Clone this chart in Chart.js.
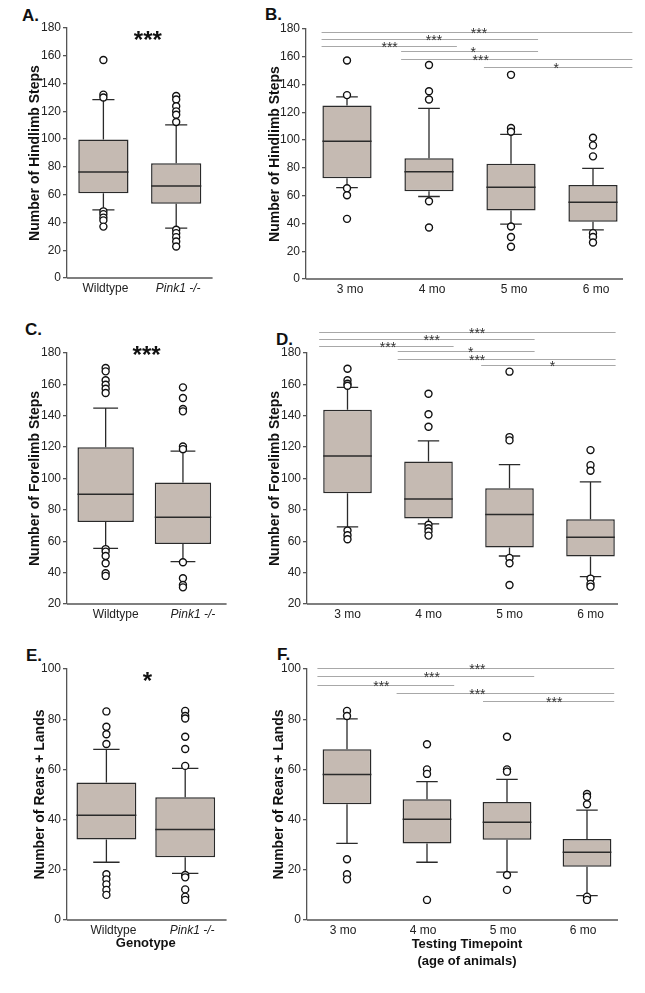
<!DOCTYPE html>
<html>
<head>
<meta charset="utf-8">
<script src="https://cdn.jsdelivr.net/npm/chart.js@4.4.1/dist/chart.umd.min.js"></script>
<style>
  body { margin: 0; background: #fff; width: 645px; height: 993px; position: relative; overflow: hidden;
         font-family: "Liberation Sans", Arial, sans-serif; }
  canvas { position: absolute; }
  .letter { position: absolute; font-weight: bold; font-size: 17px; line-height: 17px; color: #111; }
</style>
</head>
<body>
<div class="letter" style="left:22px;top:7px">A.</div>
<div class="letter" style="left:265px;top:6px">B.</div>
<div class="letter" style="left:25px;top:321px">C.</div>
<div class="letter" style="left:276px;top:331px">D.</div>
<div class="letter" style="left:26px;top:647px">E.</div>
<div class="letter" style="left:277px;top:646px">F.</div>

<canvas id="chartA" width="198" height="308" style="left:20px;top:0px"></canvas>
<canvas id="chartB" width="380" height="309" style="left:262px;top:0px"></canvas>
<canvas id="chartC" width="207" height="324" style="left:20px;top:310px"></canvas>
<canvas id="chartD" width="378" height="324" style="left:263px;top:310px"></canvas>
<canvas id="chartE" width="203" height="363" style="left:27px;top:630px"></canvas>
<canvas id="chartF" width="372" height="363" style="left:265px;top:630px"></canvas>

<script>
// ---------------- Data ----------------
const genotypeLabels = ["Wildtype", "Pink1 -/-"];
const ageLabels = ["3 mo", "4 mo", "5 mo", "6 mo"];

// A. hindlimb steps by genotype
const hindGenoQ1 = [61, 53.4];
const hindGenoMedian = [76.4, 66.3];
const hindGenoQ3 = [99.8, 82.6];
const hindGenoLow = [49, 35.9];
const hindGenoHigh = [128.5, 110.3];
const hindGenoOutliers = [
  [157, 132, 130, 48, 46, 43.5, 41.5, 37],
  [131, 128.5, 123.7, 120, 117.5, 112.3, 34.7, 32.3, 29.4, 26.3, 22.7],
];

// B. hindlimb steps by age
const hindAgeQ1 = [72.5, 63.2, 49.3, 41.2];
const hindAgeMedian = [99.1, 77.3, 66.1, 55.3];
const hindAgeQ3 = [124.9, 86.9, 83, 67.7];
const hindAgeLow = [65.8, 59.4, 39.5, 35.4];
const hindAgeHigh = [131.2, 122.8, 104.1, 79.7];
const hindAgeOutliers = [
  [157.3, 132.4, 65.3, 60.3, 43.3],
  [154.1, 135.2, 129.2, 56, 37.1],
  [147, 108.7, 106, 37.8, 30.2, 23.2],
  [101.7, 96.2, 88.3, 33, 30.2, 26.3],
];

// C. forelimb steps by genotype
const foreGenoQ1 = [72.3, 58.3];
const foreGenoMedian = [90, 75.3];
const foreGenoQ3 = [120, 97.4];
const foreGenoLow = [55.5, 47];
const foreGenoHigh = [144.9, 117.4];
const foreGenoOutliers = [
  [170.4, 168.3, 162.6, 159.8, 157.2, 154.5, 55, 53.4, 50.6, 46, 39.6, 37.9],
  [158.1, 151.3, 144.3, 142.8, 120.4, 118.7, 46.6, 36.4, 32.1, 30.6],
];

// D. forelimb steps by age
const foreAgeQ1 = [90.6, 74.5, 56, 50.2];
const foreAgeMedian = [114.3, 87, 77, 62.6];
const foreAgeQ3 = [143.8, 110.9, 93.8, 74];
const foreAgeLow = [69.1, 71.1, 50.6, 37.4];
const foreAgeHigh = [158.1, 124, 108.9, 97.9];
const foreAgeOutliers = [
  [170, 162.6, 160.4, 159.1, 66.8, 63.8, 61.3],
  [154, 141, 133, 70.5, 68.3, 66.2, 63.6],
  [168.1, 126.4, 124.3, 49.4, 46, 32.1],
  [118.1, 108.5, 104.9, 36.2, 32.8, 31.1],
];

// E. rears + lands by genotype
const rearGenoQ1 = [32.1, 25];
const rearGenoMedian = [41.7, 36.1];
const rearGenoQ3 = [54.8, 48.9];
const rearGenoLow = [23, 18.6];
const rearGenoHigh = [68, 60.4];
const rearGenoOutliers = [
  [83.1, 77, 74, 70.1, 18.2, 16.2, 14.2, 12, 10],
  [83.3, 81.3, 80.3, 73, 68.1, 61.4, 17.9, 17, 12.2, 9.3, 8],
];

// F. rears + lands by age
const rearAgeQ1 = [46.1, 30.5, 32, 21.2];
const rearAgeMedian = [58, 40.1, 38.9, 27];
const rearAgeQ3 = [68, 48.1, 47, 32.3];
const rearAgeLow = [30.5, 23, 19.1, 9.7];
const rearAgeHigh = [80.1, 55.1, 56, 43.8];
const rearAgeOutliers = [
  [83.3, 81.3, 24.2, 18.2, 16.2],
  [70, 60, 58.2, 8],
  [73, 60, 59.1, 17.9, 12],
  [50.2, 49.1, 46.1, 9.3, 8],
];

// significance brackets (category index units) and their stars
const hindSigFrom = [-0.31, -0.31, -0.31, 0.66, 0.66, 1.67];
const hindSigTo = [3.48, 2.33, 1.34, 2.33, 3.48, 3.48];
const hindSigY = [177.6, 173.1, 168, 164.2, 158.4, 152.7];
const hindSigText = ["***", "***", "***", "*", "***", "*"];
const hindSigTextX = [1.61, 1.06, 0.52, 1.54, 1.63, 2.55];

const foreSigFrom = [-0.35, -0.35, -0.35, 0.62, 0.62, 1.65];
const foreSigTo = [3.31, 2.31, 1.31, 2.31, 3.31, 3.31];
const foreSigY = [193.4, 188.9, 184.7, 181, 176.2, 172.1];
const foreSigText = ["***", "***", "***", "*", "***", "*"];
const foreSigTextX = [1.6, 1.04, 0.5, 1.52, 1.6, 2.53];

const rearSigFrom = [-0.37, -0.37, -0.37, 0.62, 1.7];
const rearSigTo = [3.34, 2.34, 1.34, 3.34, 3.34];
const rearSigY = [100.5, 97.1, 93.5, 90.6, 87.1];
const rearSigText = ["***", "***", "***", "***", "***"];
const rearSigTextX = [1.63, 1.06, 0.43, 1.63, 2.59];

// genotype comparison stars: [text, x index, y value]
const hindGenoStar = ["***", 0.61, 172.6];
const foreGenoStar = ["***", 0.53, 180];
const rearGenoStar = ["*", 0.52, 96];

// ---------------- Style ----------------
const BOX_FILL = "#c5bab2";
const EDGE = "#2a2a2a";
const AXIS = "#555";
const FONT = '"Liberation Sans", Arial, sans-serif';
Chart.defaults.font.family = FONT;

// whiskers, medians, brackets, stars, x axis line
const boxWhiskers = {
  id: "boxWhiskers",
  beforeDatasetsDraw(chart, args, o) {
    const { ctx } = chart;
    const y = chart.scales.y;
    const meta = chart.getDatasetMeta(0);
    ctx.save();
    ctx.strokeStyle = EDGE;
    ctx.lineWidth = 1.3;
    meta.data.forEach((bar, i) => {
      const cap = bar.width * 0.22;
      const yHi = y.getPixelForValue(o.high[i]);
      const yLo = y.getPixelForValue(o.low[i]);
      const yQ3 = y.getPixelForValue(o.q3[i]);
      const yQ1 = y.getPixelForValue(o.q1[i]);
      ctx.beginPath();
      ctx.moveTo(bar.x, yQ3); ctx.lineTo(bar.x, yHi);
      ctx.moveTo(bar.x - cap, yHi); ctx.lineTo(bar.x + cap, yHi);
      ctx.moveTo(bar.x, yQ1); ctx.lineTo(bar.x, yLo);
      ctx.moveTo(bar.x - cap, yLo); ctx.lineTo(bar.x + cap, yLo);
      ctx.stroke();
    });
    ctx.restore();
  },
  afterDatasetDraw(chart, args, o) {
    if (args.index !== 0) return;
    const { ctx } = chart;
    const y = chart.scales.y;
    ctx.save();
    ctx.strokeStyle = EDGE;
    ctx.lineWidth = 1.5;
    args.meta.data.forEach((bar, i) => {
      const ym = y.getPixelForValue(o.median[i]);
      ctx.beginPath();
      ctx.moveTo(bar.x - bar.width / 2, ym);
      ctx.lineTo(bar.x + bar.width / 2, ym);
      ctx.stroke();
    });
    ctx.restore();
  },
  afterDraw(chart, args, o) {
    const { ctx, chartArea } = chart;
    const { x, y } = chart.scales;
    ctx.save();
    // x axis line
    ctx.strokeStyle = AXIS;
    ctx.lineWidth = 1.3;
    ctx.beginPath();
    ctx.moveTo(chartArea.left, chartArea.bottom);
    ctx.lineTo(chartArea.right + (o.axisExtra || 0), chartArea.bottom);
    ctx.stroke();

    if (o.sig) {
      const s = o.sig;
      ctx.strokeStyle = "#a8a8a8";
      ctx.lineWidth = 1.2;
      ctx.fillStyle = "#333";
      ctx.font = "14px " + FONT;
      ctx.textAlign = "center";
      ctx.textBaseline = "alphabetic";
      s.y.forEach((v, k) => {
        const py = Math.round(y.getPixelForValue(v)) + 0.5;
        ctx.beginPath();
        ctx.moveTo(x.getPixelForValue(s.from[k]), py);
        ctx.lineTo(x.getPixelForValue(s.to[k]), py);
        ctx.stroke();
        ctx.fillText(s.text[k], x.getPixelForValue(s.textX[k]), py + 5);
      });
    }
    if (o.star) {
      const [txt, sx, sy] = o.star;
      ctx.fillStyle = "#111";
      ctx.font = "bold 24px " + FONT;
      ctx.textAlign = "center";
      ctx.textBaseline = "alphabetic";
      ctx.fillText(txt, x.getPixelForValue(sx), y.getPixelForValue(sy) + 10);
    }
    ctx.restore();
  },
};

function makePanel(id, p) {
  const labels = p.labels;
  const points = [];
  p.outliers.forEach((vals, i) => vals.forEach((v) => points.push({ x: labels[i], y: v })));

  return new Chart(document.getElementById(id), {
    data: {
      labels,
      datasets: [
        {
          type: "bar",
          data: p.q1.map((v, i) => [v, p.q3[i]]),
          backgroundColor: BOX_FILL,
          borderColor: EDGE,
          borderWidth: 1.5,
          borderSkipped: false,
          barPercentage: p.barPct,
          categoryPercentage: 1,
          order: 1,
        },
        {
          type: "line",
          data: points,
          showLine: false,
          pointRadius: 3.5,
          pointBorderWidth: 1.4,
          pointBackgroundColor: "#fff",
          pointBorderColor: "#111",
          order: 0,
        },
      ],
    },
    options: {
      responsive: false,
      animation: false,
      events: [],
      layout: { padding: { top: p.padTop, right: p.padRight, bottom: p.padBottom || 0, left: 0 } },
      plugins: {
        legend: { display: false },
        tooltip: { enabled: false },
        boxWhiskers: {
          q1: p.q1, q3: p.q3, median: p.median, low: p.low, high: p.high,
          sig: p.sig, star: p.star, axisExtra: p.axisExtra,
        },
      },
      scales: {
        x: {
          type: "category",
          offset: true,
          grid: { display: false, drawTicks: false },
          border: { display: false },
          ticks: {
            color: "#222",
            padding: 3,
            labelOffset: p.labelShift || 0,
            maxRotation: 0,
            autoSkip: false,
            font: (c) => ({ size: 12, style: labels[c.index] === "Pink1 -/-" ? "italic" : "normal" }),
          },
          title: p.xTitle
            ? { display: true, text: p.xTitle, color: "#111", font: { size: 13, weight: "bold", lineHeight: 1.3 }, padding: 0 }
            : { display: false },
          afterFit: (s) => { s.height = p.xHeight; },
        },
        y: {
          min: p.yMin,
          max: p.yMax,
          ticks: { stepSize: 20, color: "#222", padding: 2, font: { size: 12 } },
          grid: { drawOnChartArea: false, tickLength: 4, color: AXIS, lineWidth: 1.3 },
          border: { color: AXIS, width: 1.3 },
          title: {
            display: true,
            text: p.yTitle,
            color: "#111",
            font: { size: 14, weight: "bold" },
            padding: { top: p.yTitlePad, bottom: 0 },
          },
          afterFit: (s) => { s.width = p.yWidth; },
        },
      },
    },
    plugins: [boxWhiskers],
  });
}

// ---------------- Panels ----------------
makePanel("chartA", {
  labels: genotypeLabels, q1: hindGenoQ1, median: hindGenoMedian, q3: hindGenoQ3,
  low: hindGenoLow, high: hindGenoHigh, outliers: hindGenoOutliers,
  yMin: 0, yMax: 180, yTitle: "Number of Hindlimb Steps", star: hindGenoStar,
  padTop: 28, padRight: 5, yWidth: 47, xHeight: 30, yTitlePad: 7, barPct: 0.69, labelShift: 2, axisExtra: 0,
});

makePanel("chartB", {
  labels: ageLabels, q1: hindAgeQ1, median: hindAgeMedian, q3: hindAgeQ3,
  low: hindAgeLow, high: hindAgeHigh, outliers: hindAgeOutliers,
  yMin: 0, yMax: 180, yTitle: "Number of Hindlimb Steps",
  sig: { from: hindSigFrom, to: hindSigTo, y: hindSigY, text: hindSigText, textX: hindSigTextX },
  padTop: 29, padRight: 8, yWidth: 44, xHeight: 30, yTitlePad: 5, barPct: 0.6, labelShift: 3, axisExtra: -11,
});

makePanel("chartC", {
  labels: genotypeLabels, q1: foreGenoQ1, median: foreGenoMedian, q3: foreGenoQ3,
  low: foreGenoLow, high: foreGenoHigh, outliers: foreGenoOutliers,
  yMin: 20, yMax: 180, yTitle: "Number of Forelimb Steps", star: foreGenoStar,
  padTop: 43, padRight: 5, yWidth: 47, xHeight: 30, yTitlePad: 7, barPct: 0.73, labelShift: 10, axisExtra: 5,
});

makePanel("chartD", {
  labels: ageLabels, q1: foreAgeQ1, median: foreAgeMedian, q3: foreAgeQ3,
  low: foreAgeLow, high: foreAgeHigh, outliers: foreAgeOutliers,
  yMin: 20, yMax: 180, yTitle: "Number of Forelimb Steps",
  sig: { from: foreSigFrom, to: foreSigTo, y: foreSigY, text: foreSigText, textX: foreSigTextX },
  padTop: 43, padRight: 10, yWidth: 44, xHeight: 30, yTitlePad: 4, barPct: 0.6, labelShift: 0, axisExtra: -13,
});

makePanel("chartE", {
  labels: genotypeLabels, q1: rearGenoQ1, median: rearGenoMedian, q3: rearGenoQ3,
  low: rearGenoLow, high: rearGenoHigh, outliers: rearGenoOutliers,
  yMin: 0, yMax: 100, yTitle: "Number of Rears + Lands", star: rearGenoStar,
  xTitle: "Genotype",
  padTop: 39, padRight: 5, padBottom: 41, yWidth: 40, xHeight: 32, yTitlePad: 5, barPct: 0.76, labelShift: 7, axisExtra: 2,
});

makePanel("chartF", {
  labels: ageLabels, q1: rearAgeQ1, median: rearAgeMedian, q3: rearAgeQ3,
  low: rearAgeLow, high: rearAgeHigh, outliers: rearAgeOutliers,
  yMin: 0, yMax: 100, yTitle: "Number of Rears + Lands",
  xTitle: ["Testing Timepoint", "(age of animals)"],
  sig: { from: rearSigFrom, to: rearSigTo, y: rearSigY, text: rearSigText, textX: rearSigTextX },
  padTop: 39, padRight: 10, padBottom: 23, yWidth: 42, xHeight: 50, yTitlePad: 6, barPct: 0.61, labelShift: -4, axisExtra: -9,
});
</script>
</body>
</html>
